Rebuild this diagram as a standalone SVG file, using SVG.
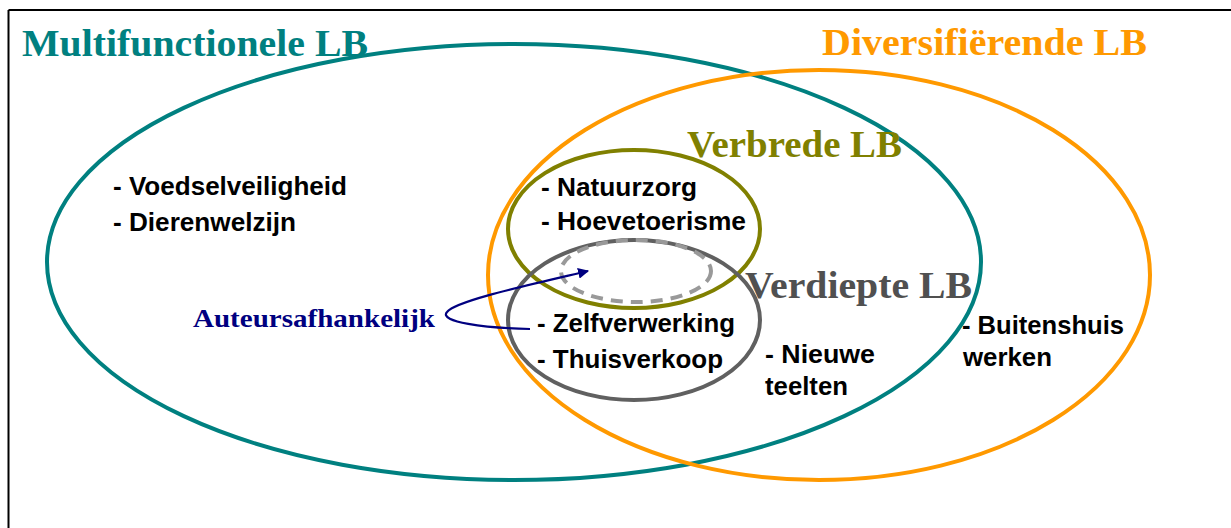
<svg xmlns="http://www.w3.org/2000/svg" width="1231" height="528" viewBox="0 0 1231 528">
<style>
.ell{fill:none;stroke-width:4}
.title{font-family:"Liberation Serif","DejaVu Serif",serif;font-weight:bold;font-size:37px}
.item{font-family:"Liberation Sans",Arial,sans-serif;font-weight:bold;font-size:25px;fill:#000}
</style>
<defs>
<marker id="arr" viewBox="0 0 10 10" refX="9" refY="5" markerWidth="5" markerHeight="5" orient="auto" markerUnits="strokeWidth">
<path d="M0,0 L10,5 L0,10 z" fill="#000080"/>
</marker>
</defs>
<rect width="1231" height="528" fill="#fff"/>
<g id="frame" stroke="#000" stroke-width="2" fill="none">
<line x1="8.5" y1="10" x2="1231" y2="10"/>
<line x1="8.5" y1="10" x2="8.5" y2="528"/>
</g>
<g id="multifunctionele">
<ellipse class="ell" cx="514" cy="262" rx="467" ry="218" stroke="#008080"/>
<text class="title" x="22" y="56" fill="#008080" textLength="346" lengthAdjust="spacingAndGlyphs">Multifunctionele LB</text>
<text class="item" x="113" y="195" textLength="234" lengthAdjust="spacingAndGlyphs">- Voedselveiligheid</text>
<text class="item" x="113" y="231" textLength="183" lengthAdjust="spacingAndGlyphs">- Dierenwelzijn</text>
</g>
<g id="diversifierende">
<ellipse class="ell" cx="819" cy="275" rx="331" ry="205" stroke="#FF9900"/>
<text class="title" x="822" y="55" fill="#FF9900" textLength="325" lengthAdjust="spacingAndGlyphs">Diversifiërende LB</text>
<text class="item" x="962" y="334" textLength="162" lengthAdjust="spacingAndGlyphs">- Buitenshuis</text>
<text class="item" x="963" y="366" textLength="89" lengthAdjust="spacingAndGlyphs">werken</text>
<text class="item" x="765" y="363" textLength="110" lengthAdjust="spacingAndGlyphs">- Nieuwe</text>
<text class="item" x="765" y="395" textLength="83" lengthAdjust="spacingAndGlyphs">teelten</text>
</g>
<g id="verbrede">
<ellipse class="ell" cx="634" cy="229" rx="126" ry="79" stroke="#808000"/>
<text class="title" x="687" y="157" fill="#808000" textLength="215" lengthAdjust="spacingAndGlyphs">Verbrede LB</text>
<text class="item" x="541" y="196" textLength="156" lengthAdjust="spacingAndGlyphs">- Natuurzorg</text>
<text class="item" x="541" y="230" textLength="205" lengthAdjust="spacingAndGlyphs">- Hoevetoerisme</text>
</g>
<g id="verdiepte">
<ellipse class="ell" cx="634" cy="320" rx="126" ry="80" stroke="#606060"/>
<text class="title" x="745" y="298" fill="#505050" textLength="227" lengthAdjust="spacingAndGlyphs">Verdiepte LB</text>
<text class="item" x="537" y="332" textLength="198" lengthAdjust="spacingAndGlyphs">- Zelfverwerking</text>
<text class="item" x="537" y="368" textLength="186" lengthAdjust="spacingAndGlyphs">- Thuisverkoop</text>
</g>
<g id="overlap">
<ellipse class="ell" cx="636" cy="271" rx="75" ry="31" stroke="#999999" stroke-dasharray="12 8"/>
</g>
<g id="auteursafhankelijk">
<text x="193" y="327" fill="#000080" font-family="Liberation Serif,DejaVu Serif,serif" font-weight="bold" font-size="25" textLength="242" lengthAdjust="spacingAndGlyphs">Auteursafhankelijk</text>
</g>
<g id="connectors">
<path d="M530,329 C485,328 438,322 447,312 C456,301 520,287 588,271" fill="none" stroke="#000080" stroke-width="2.2" marker-end="url(#arr)"/>
</g>
</svg>
